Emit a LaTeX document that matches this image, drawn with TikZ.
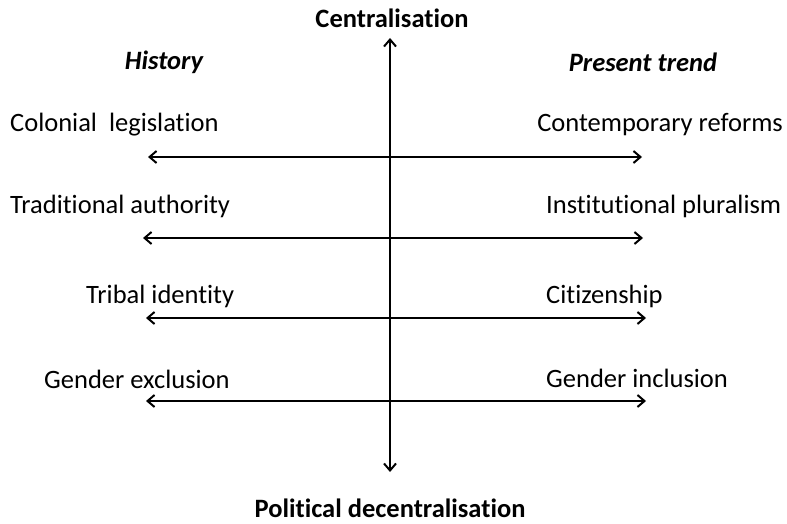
\documentclass[tikz,border=0pt]{standalone}
\usepackage{fontspec}
\setmainfont{Carlito}[Ligatures=NoCommon]
\usetikzlibrary{arrows.meta}
\begin{document}
\begin{tikzpicture}[x=1pt,y=-1pt,
  lbl/.style={font=\fontsize{26.5}{30}\selectfont, inner sep=0pt},
  hdr/.style={font=\fontsize{26.5}{30}\selectfont\bfseries, inner sep=0pt},
  hdri/.style={font=\fontsize{26.5}{30}\selectfont\bfseries\itshape, inner sep=0pt},
  axis/.style={line width=2pt, {Straight Barb[length=7pt,width=12pt,line width=2pt]}-{Straight Barb[length=7pt,width=12pt,line width=2pt]}}]
\useasboundingbox (0,0) rectangle (787,524);
\node[hdr] (cen) at (392,18) {Centralisation};
\node[hdr] (dec) at (390,508) {Political decentralisation};
\node[hdri] (hist) at (164,62) {History};
\node[hdri] (pres) at (643,62) {Present trend};
\coordinate (vt) at (390,38);
\coordinate (vb) at (390,472);
\draw[axis] (vb) -- (vt);
% row 1
\node[lbl, anchor=west] (l1) at (10,125) {Colonial\ \ legislation};
\node[lbl, anchor=east] (r1) at (783,125) {Contemporary reforms};
\coordinate (a1) at (148,157); \coordinate (b1) at (642,157);
\draw[axis] (a1) -- (b1);
% row 2
\node[lbl, anchor=west] (l2) at (10,206) {Traditional authority};
\node[lbl, anchor=west] (r2) at (546,206) {Institutional pluralism};
\coordinate (a2) at (143,238); \coordinate (b2) at (643,238);
\draw[axis] (a2) -- (b2);
% row 3
\node[lbl, anchor=west] (l3) at (86,296) {Tribal identity};
\node[lbl, anchor=west] (r3) at (546,296) {Citizenship};
\coordinate (a3) at (146,318); \coordinate (b3) at (646,318);
\draw[axis] (a3) -- (b3);
% row 4
\node[lbl, anchor=west] (l4) at (44,379) {Gender exclusion};
\node[lbl, anchor=west] (r4) at (546,378) {Gender inclusion};
\coordinate (a4) at (146,401); \coordinate (b4) at (646,401);
\draw[axis] (a4) -- (b4);
\end{tikzpicture}
\end{document}
